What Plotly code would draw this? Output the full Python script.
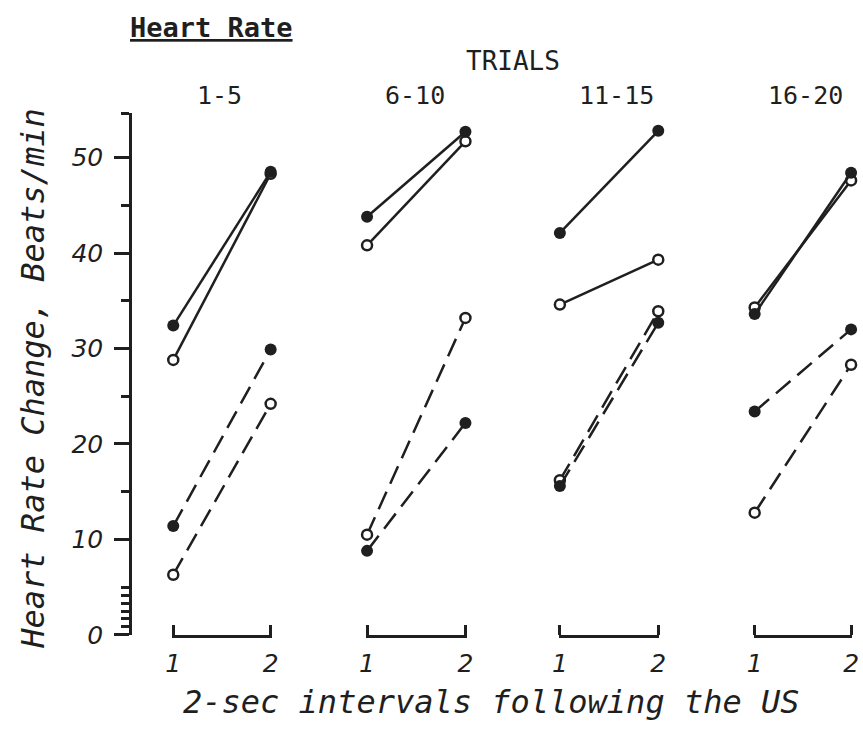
import plotly.graph_objects as go

# ---------------- data ----------------
panels = ["1-5", "6-10", "11-15", "16-20"]
intervals = [1, 2]
interval_labels = ["1", "2"]

solid_filled = [[32.4, 48.5], [43.8, 52.7], [42.1, 52.8], [33.6, 48.4]]
solid_open = [[28.8, 48.3], [40.8, 51.7], [34.6, 39.3], [34.3, 47.6]]
dashed_filled = [[11.4, 29.9], [8.8, 22.2], [15.6, 32.7], [23.4, 32.0]]
dashed_open = [[6.3, 24.2], [10.5, 33.2], [16.2, 33.9], [12.8, 28.3]]

y_major = [0, 10, 20, 30, 40, 50]
y_major_labels = ["0", "10", "20", "30", "40", "50"]
y_minor = [0.83, 1.67, 2.5, 3.33, 4.17, 5, 15, 25, 35, 45, 54.6]

# ---------------- style ----------------
W, H = 863, 741
ink = "#1f1f1f"
hand = dict(family="DejaVu Sans", size=25, color=ink, style="italic")
hand_mono = dict(family="DejaVu Sans Mono", color=ink, style="italic")
typed = dict(family="DejaVu Sans Mono", color=ink)

panel_px = [(169, 268), (366, 466), (562, 662), (760, 858)]
y_bottom_px, y_top_px = 648, 115
y_axis_px = 125
eps = 0.012  # tiny range padding so the bracket end ticks are drawn

fig = go.Figure()

series = [
    (dashed_open, "19px,9px", False),
    (dashed_filled, "19px,9px", True),
    (solid_open, "solid", False),
    (solid_filled, "solid", True),
]

for i in range(len(panels)):
    xa = "x" if i == 0 else f"x{i + 1}"
    for data, dash, filled in series:
        fig.add_trace(go.Scatter(
            x=intervals, y=data[i], xaxis=xa, yaxis="y",
            mode="lines+markers",
            line=dict(color=ink, width=2.5, dash=dash),
            marker=dict(
                size=12 if filled else 10,
                color=ink if filled else "white",
                line=dict(color=ink, width=0 if filled else 2.5),
            ),
            cliponaxis=False, showlegend=False, hoverinfo="skip",
        ))

layout = dict(
    width=W, height=H,
    margin=dict(l=0, r=0, t=0, b=0),
    paper_bgcolor="white", plot_bgcolor="white",
    showlegend=False,
    yaxis=dict(
        domain=[(H - y_bottom_px) / H, (H - y_top_px) / H],
        range=[0, 54.7],
        anchor="free", position=y_axis_px / W,
        showline=True, linecolor=ink, linewidth=2.5,
        ticks="outside", ticklen=15, tickwidth=3, tickcolor=ink,
        tickvals=y_major, ticktext=y_major_labels,
        minor=dict(tickvals=y_minor, ticks="outside", ticklen=8,
                   tickwidth=2.5, tickcolor=ink, showgrid=False),
        tickfont=hand, ticklabelstandoff=6,
        showgrid=False, zeroline=False,
    ),
)

for i, (a, b) in enumerate(panel_px):
    name = "xaxis" if i == 0 else f"xaxis{i + 1}"
    pad = (b - a) * eps
    layout[name] = dict(
        domain=[(a - pad) / W, min(1.0, (b + pad) / W)],
        range=[1 - eps, 2 + eps], anchor="y",
        showline=True, linecolor=ink, linewidth=2.5,
        ticks="inside", ticklen=10, tickwidth=2.5, tickcolor=ink,
        tickvals=intervals, ticktext=interval_labels,
        tickfont=hand, ticklabelstandoff=4,
        showgrid=False, zeroline=False,
    )

fig.update_layout(**layout)

annotations = [
    dict(text="Heart Rate", x=208 / W, y=1 - 28 / H,
         font=dict(**typed, size=27, weight="bold", lineposition="under")),
    dict(text="TRIALS", x=514 / W, y=1 - 62 / H, font=dict(**typed, size=26)),
]
panel_cx = [216, 415, 620, 812]
for lab, cx in zip(panels, panel_cx):
    annotations.append(dict(text=lab, x=cx / W, y=1 - 97 / H,
                            font=dict(**typed, size=25)))

annotations.append(dict(text="Heart Rate Change, Beats/min", x=27 / W,
                        y=1 - 387 / H, textangle=-90,
                        font=dict(**hand_mono, size=32)))
annotations.append(dict(text="2-sec intervals following the US",
                        x=492 / W, y=1 - 717 / H,
                        font=dict(**hand_mono, size=32)))

for a in annotations:
    a.update(xref="paper", yref="paper", showarrow=False,
             xanchor="center", yanchor="middle")
fig.update_layout(annotations=annotations)

fig.write_html("out.html")
